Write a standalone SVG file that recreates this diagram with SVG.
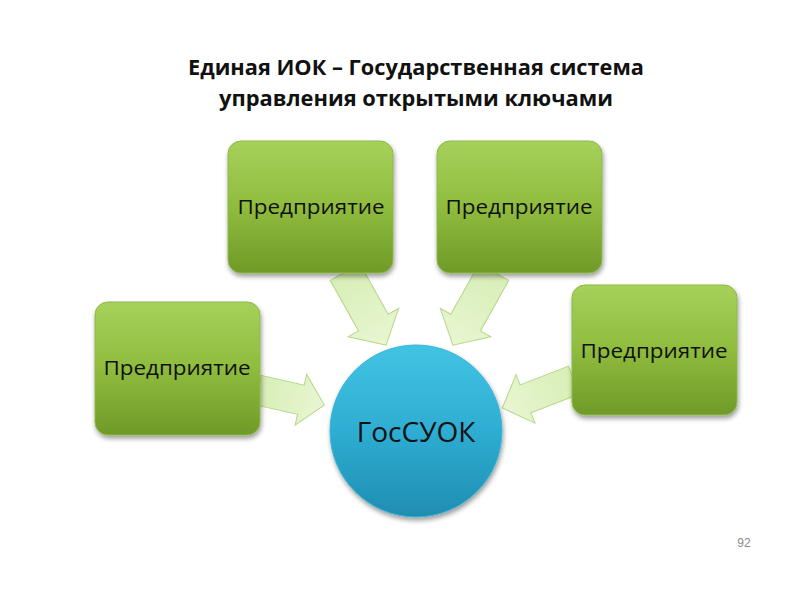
<svg xmlns="http://www.w3.org/2000/svg" width="800" height="600" viewBox="0 0 800 600">
<defs>
<linearGradient id="gBox" x1="0" y1="0" x2="0" y2="1">
<stop offset="0" stop-color="#a6d15b"/>
<stop offset="0.5" stop-color="#8fbc3e"/>
<stop offset="1" stop-color="#6f9a28"/>
</linearGradient>
<linearGradient id="gCirc" x1="0" y1="0" x2="0" y2="1">
<stop offset="0" stop-color="#42c4e4"/>
<stop offset="0.5" stop-color="#2eadd2"/>
<stop offset="1" stop-color="#1f8db1"/>
</linearGradient>
<linearGradient id="gArr" x1="0" y1="0" x2="1" y2="0">
<stop offset="0" stop-color="#d8eeb6"/>
<stop offset="1" stop-color="#e8f6d2"/>
</linearGradient>
<filter id="sh" x="-20%" y="-20%" width="140%" height="150%">
<feGaussianBlur in="SourceAlpha" stdDeviation="2.5"/>
<feOffset dx="1" dy="3"/>
<feComponentTransfer><feFuncA type="linear" slope="0.4"/></feComponentTransfer>
<feMerge><feMergeNode/><feMergeNode in="SourceGraphic"/></feMerge>
</filter>
</defs>
<style>
.box{fill:url(#gBox);stroke:#8cb84a;stroke-width:1;filter:url(#sh)}
.circ{fill:url(#gCirc);stroke:#3ab4d6;stroke-width:1;filter:url(#sh)}
.arr{fill:url(#gArr);stroke:#b5d788;stroke-width:1}
.lbl{font-family:"Open Sans","Noto Sans","DejaVu Sans",sans-serif;font-size:20px;fill:#111;text-anchor:middle}
.big{font-family:"Open Sans","Noto Sans","DejaVu Sans",sans-serif;font-size:28px;fill:#111;text-anchor:middle}
.title{font-family:"Open Sans","Noto Sans","DejaVu Sans",sans-serif;font-size:22px;font-weight:bold;fill:#111;text-anchor:middle}
.pg{font-family:"Liberation Sans",Arial,sans-serif;font-size:12px;fill:#8c8c8c;text-anchor:middle}
</style>
<rect width="800" height="600" fill="#ffffff"/>
<text class="title" x="416" y="75" textLength="456" lengthAdjust="spacingAndGlyphs">Единая ИОК – Государственная система</text>
<text class="title" x="416" y="106" textLength="394" lengthAdjust="spacingAndGlyphs">управления открытыми ключами</text>
<g id="connectors">
<path class="arr" transform="translate(258,390) rotate(12.8)" d="M0,-15 L44,-15 L44,-26 L68,0 L44,26 L44,15 L0,15 Z"/>
<path class="arr" transform="translate(345,272) rotate(60.7)" d="M0,-17 L58,-17 L58,-29 L84,0 L58,29 L58,17 L0,17 Z"/>
<path class="arr" transform="translate(494,272) rotate(119.3)" d="M0,-17 L58,-17 L58,-29 L84,0 L58,29 L58,17 L0,17 Z"/>
<path class="arr" transform="translate(574,380) rotate(158.7)" d="M0,-15 L52,-15 L52,-26 L77,0 L52,26 L52,15 L0,15 Z"/>
</g>
<g id="node-left">
<rect class="box" x="95" y="302" width="165" height="133" rx="13"/>
<text class="lbl" x="177" y="375" textLength="147" lengthAdjust="spacingAndGlyphs">Предприятие</text>
</g>
<g id="node-top-left">
<rect class="box" x="228" y="141" width="165" height="132" rx="13"/>
<text class="lbl" x="311" y="214" textLength="147" lengthAdjust="spacingAndGlyphs">Предприятие</text>
</g>
<g id="node-top-right">
<rect class="box" x="437" y="141" width="165" height="132" rx="13"/>
<text class="lbl" x="519" y="214" textLength="147" lengthAdjust="spacingAndGlyphs">Предприятие</text>
</g>
<g id="node-right">
<rect class="box" x="572" y="285" width="165" height="130" rx="13"/>
<text class="lbl" x="654" y="358" textLength="147" lengthAdjust="spacingAndGlyphs">Предприятие</text>
</g>
<g id="node-center">
<circle class="circ" cx="416" cy="431" r="86"/>
<text class="big" x="416" y="442">ГосСУОК</text>
</g>
<text class="pg" x="744" y="547">92</text>
</svg>
